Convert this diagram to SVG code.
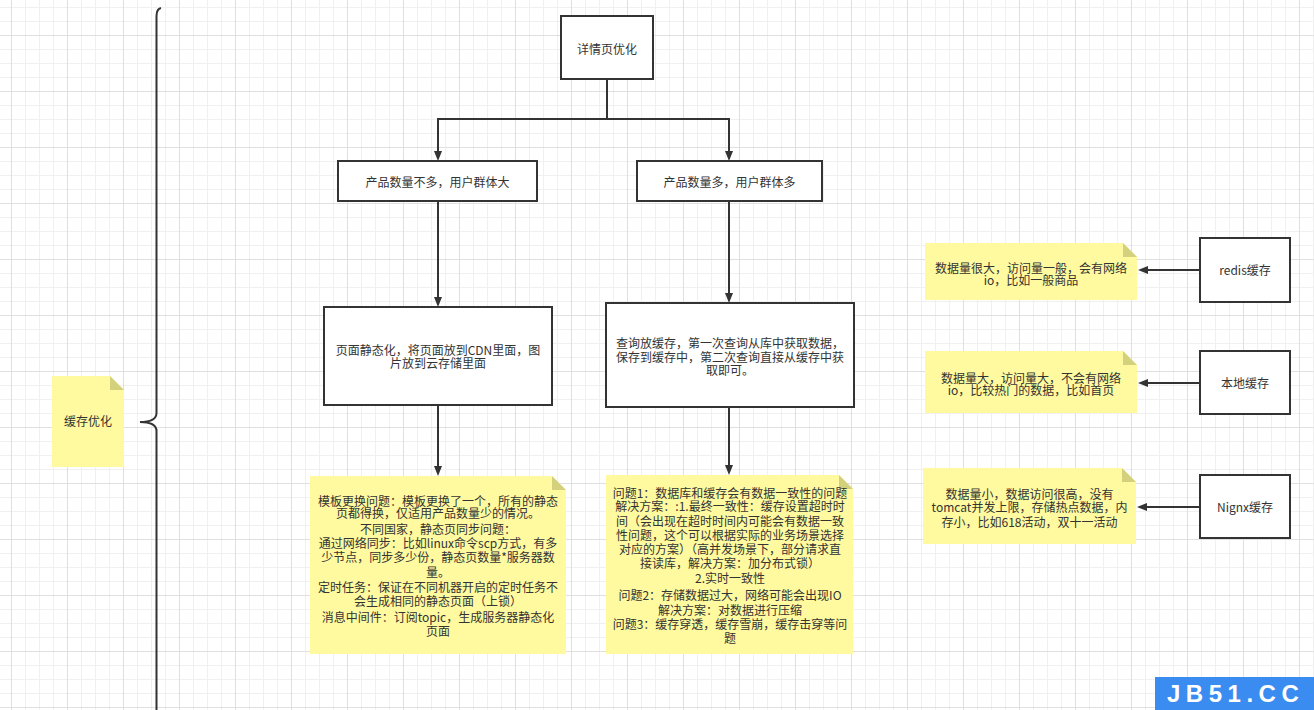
<svg xmlns="http://www.w3.org/2000/svg" width="1314" height="710" viewBox="0 0 1314 710">
<defs>
<pattern id="grid" patternUnits="userSpaceOnUse" x="11" y="35" width="56" height="56">
<path d="M14.5 0V56M28.5 0V56M42.5 0V56M0 14.5H56M0 28.5H56M0 42.5H56" stroke="#f0f0f0" stroke-width="1" fill="none"/>
<path d="M0.5 0V56M0 0.5H56" stroke="#e0e0e0" stroke-width="1" fill="none"/>
</pattern>
<marker id="arr" markerUnits="userSpaceOnUse" markerWidth="10" markerHeight="8" viewBox="0 0 10 8" refX="1" refY="4" orient="auto">
<path d="M0 0L10 4L0 8Z" fill="#333"/>
</marker>
</defs>
<style>
.box{fill:#fff;stroke:#333;stroke-width:2}
.note{fill:#fffa9f;stroke:none}
.fold{fill:#d3d07e;stroke:none}
.edge{fill:none;stroke:#333;stroke-width:2;marker-end:url(#arr)}
text{font-family:"Noto Sans CJK SC","Noto Sans",sans-serif;font-size:12px;fill:#333;text-anchor:middle}
</style>
<rect width="1314" height="710" fill="#fff"/>
<rect width="1314" height="710" fill="url(#grid)"/>

<g id="brace">
<path d="M161 8Q156.5 9 156.5 16V413Q156.5 422 140 422Q156.5 422 156.5 431V712" fill="none" stroke="#333" stroke-width="2"/>
</g>

<g id="connectors">
<path class="edge" d="M607 79V119H438V152"/>
<path class="edge" d="M607 119H729V152"/>
<path class="edge" d="M438 201V298"/>
<path class="edge" d="M729 201V294"/>
<path class="edge" d="M438 405V467"/>
<path class="edge" d="M729 407V466"/>
<path class="edge" d="M1200 270H1147"/>
<path class="edge" d="M1200 383H1147"/>
<path class="edge" d="M1200 507H1146"/>
</g>

<g id="n-cache">
<path class="note" d="M52 376H110L124 390V467H52Z"/>
<path class="fold" d="M110 376V390H124Z"/>
<text x="88" y="426">缓存优化</text>
</g>

<g id="n-detail">
<rect class="box" x="561" y="16" width="92" height="63"/>
<text x="607" y="53.5">详情页优化</text>
</g>

<g id="n-few">
<rect class="box" x="338" y="161" width="199" height="40"/>
<text x="437.5" y="187">产品数量不多，用户群体大</text>
</g>

<g id="n-many">
<rect class="box" x="637" y="161" width="185" height="40"/>
<text x="729.5" y="187">产品数量多，用户群体多</text>
</g>

<g id="n-static">
<rect class="box" x="324" y="307" width="228" height="98"/>
<text x="438" y="354.5">页面静态化，将页面放到CDN里面，图</text>
<text x="438" y="367.5">片放到云存储里面</text>
</g>

<g id="n-query">
<rect class="box" x="606" y="303" width="248" height="104"/>
<text x="730" y="347.5">查询放缓存，第一次查询从库中获取数据，</text>
<text x="730" y="361.5">保存到缓存中，第二次查询直接从缓存中获</text>
<text x="730" y="374.5">取即可。</text>
</g>

<g id="n-note1">
<path class="note" d="M310 476H552L566 490V654H310Z"/>
<path class="fold" d="M552 476V490H566Z"/>
<text x="438" y="506">模板更换问题：模板更换了一个，所有的静态</text>
<text x="438" y="518">页都得换，仅适用产品数量少的情况。</text>
<text x="438" y="533.5">不同国家，静态页同步问题：</text>
<text x="438" y="548">通过网络同步：比如linux命令scp方式，有多</text>
<text x="438" y="562">少节点，同步多少份，静态页数量*服务器数</text>
<text x="438" y="577">量。</text>
<text x="438" y="592">定时任务：保证在不同机器开启的定时任务不</text>
<text x="438" y="606">会生成相同的静态页面（上锁）</text>
<text x="438" y="621.5">消息中间件：订阅topic，生成服务器静态化</text>
<text x="438" y="636">页面</text>
</g>

<g id="n-note2">
<path class="note" d="M606 475H839L853 489V654H606Z"/>
<path class="fold" d="M839 475V489H853Z"/>
<text x="730" y="497.5">问题1：数据库和缓存会有数据一致性的问题</text>
<text x="730" y="511">解决方案：:1.最终一致性：缓存设置超时时</text>
<text x="730" y="525.5">间（会出现在超时时间内可能会有数据一致</text>
<text x="730" y="539.5">性问题，这个可以根据实际的业务场景选择</text>
<text x="730" y="554">对应的方案）（高并发场景下，部分请求直</text>
<text x="730" y="568">接读库，解决方案：加分布式锁）</text>
<text x="730" y="583">2.实时一致性</text>
<text x="730" y="599.5">问题2：存储数据过大，网络可能会出现IO</text>
<text x="730" y="615">解决方案：对数据进行压缩</text>
<text x="730" y="629">问题3：缓存穿透，缓存雪崩，缓存击穿等问</text>
<text x="730" y="643">题</text>
</g>

<g id="n-noteA">
<path class="note" d="M925 243H1123L1137 257V300H925Z"/>
<path class="fold" d="M1123 243V257H1137Z"/>
<text x="1031" y="272.5">数据量很大，访问量一般，会有网络</text>
<text x="1031" y="284.5">io，比如一般商品</text>
</g>

<g id="n-noteB">
<path class="note" d="M925 351H1123L1137 365V413H925Z"/>
<path class="fold" d="M1123 351V365H1137Z"/>
<text x="1031" y="382.5">数据量大，访问量大，不会有网络</text>
<text x="1031" y="395">io，比较热门的数据，比如首页</text>
</g>

<g id="n-noteC">
<path class="note" d="M923 468H1122L1136 482V544H923Z"/>
<path class="fold" d="M1122 468V482H1136Z"/>
<text x="1029.5" y="498.5">数据量小，数据访问很高，没有</text>
<text x="1029.5" y="512">tomcat并发上限，存储热点数据，内</text>
<text x="1029.5" y="526.5">存小，比如618活动，双十一活动</text>
</g>

<g id="n-redis">
<rect class="box" x="1200" y="238" width="90" height="64"/>
<text x="1245" y="274.5">redis缓存</text>
</g>

<g id="n-local">
<rect class="box" x="1200" y="351" width="90" height="63"/>
<text x="1245" y="387.5">本地缓存</text>
</g>

<g id="n-nginx">
<rect class="box" x="1200" y="475" width="90" height="63"/>
<text x="1245" y="511.5">Nignx缓存</text>
</g>

<g id="watermark">
<rect x="1155" y="677" width="159" height="33" fill="#3b8cf0"/>
<text x="1167" y="702" style="font-family:'Liberation Sans',Arial,sans-serif;font-size:24px;font-weight:bold;fill:#fff;text-anchor:start;letter-spacing:5.5px">JB51.CC</text>
</g>
</svg>
